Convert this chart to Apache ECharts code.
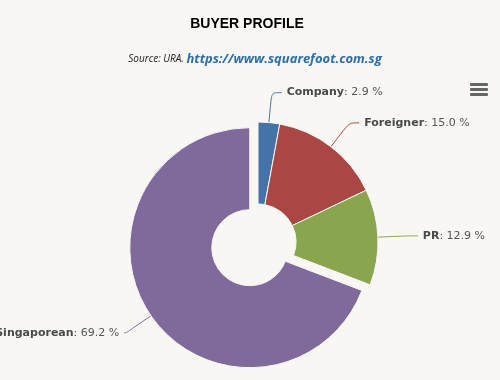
<!DOCTYPE html>
<html><head><meta charset="utf-8">
<script src="https://cdn.jsdelivr.net/npm/echarts@6/dist/echarts.min.js"></script>
<style>html,body{margin:0;padding:0;background:#f8f7f3;}#c{width:500px;height:380px;}</style>
</head><body><div id="c"></div>
<script>
var categories = ['Company', 'Foreigner', 'PR', 'Singaporean'];
var values = [2.9, 15.0, 12.9, 69.2];
var colors = ['#4572A7', '#AA4643', '#89A54E', '#80699B'];
var slicedIndex = 3;

var chart = echarts.init(document.getElementById('c'), null, {renderer: 'canvas'});
var data = categories.map(function (n, i) {
  var d = {name: n, value: values[i], selected: i === slicedIndex, itemStyle: {color: colors[i]}};
  if (i === slicedIndex) d.labelLine = {length2: 2};
  return d;
});
chart.setOption({
  backgroundColor: '#f8f7f3',
  animation: false,
  title: [{
    text: 'BUYER PROFILE',
    left: 242, top: 12, textAlign: 'center',
    textStyle: {fontFamily: 'Liberation Sans', fontWeight: 'bold', fontSize: 14, color: '#000'}
  }, {
    text: '{a|Source: URA. }{b|https://www.squarefoot.com.sg}',
    left: 250, top: 48, textAlign: 'center',
    textStyle: {
      fontWeight: 'normal',
      rich: {
        a: {fontFamily: 'Open Sans', fontStyle: 'italic', fontWeight: 'normal', fontSize: 10, color: '#222'},
        b: {fontFamily: 'Open Sans', fontStyle: 'italic', fontWeight: 'bold', fontSize: 13, color: '#2c6fad'}
      }
    }
  }],
  graphic: [{
    type: 'group', left: 470, top: 83,
    children: [
      {type: 'rect', shape: {x: 0, y: 0, width: 18, height: 3, r: 1}, style: {fill: '#666'}},
      {type: 'rect', shape: {x: 0, y: 5, width: 18, height: 3, r: 1}, style: {fill: '#666'}},
      {type: 'rect', shape: {x: 0, y: 10, width: 18, height: 3, r: 1}, style: {fill: '#666'}}
    ]
  }],
  series: [{
    type: 'pie',
    center: [258, 242],
    radius: [38, 120],
    startAngle: 90,
    clockwise: true,
    selectedMode: 'single',
    selectedOffset: 10,
    avoidLabelOverlap: false,
    itemStyle: {borderColor: '#f8f7f3', borderWidth: 1},
    label: {
      show: true, position: 'outside',
      formatter: function (p) { return '{n|' + p.name + '}: ' + p.value.toFixed(1) + ' %'; },
      fontFamily: 'DejaVu Sans', fontSize: 11, color: '#555',
      rich: {n: {fontFamily: 'DejaVu Sans', fontSize: 11, fontWeight: 'bold', color: '#4a4a4a'}}
    },
    labelLine: {show: true, length: 30, length2: 10, smooth: 0.3, lineStyle: {width: 1}},
    emphasis: {disabled: true},
    data: data
  }]
});
</script></body></html>
